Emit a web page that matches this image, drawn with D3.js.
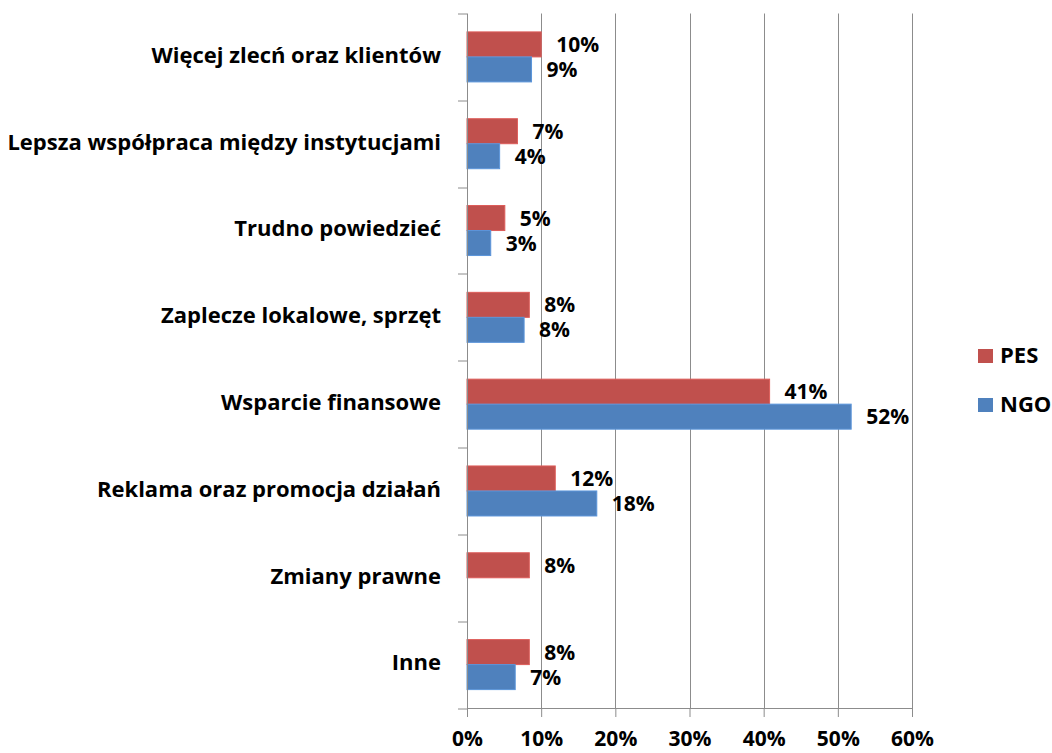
<!DOCTYPE html>
<html>
<head>
<meta charset="utf-8">
<script src="https://cdn.jsdelivr.net/npm/d3@7"></script>
<style>
  body { margin: 0; background: #fff; }
  svg text { font-family: "Open Sans", sans-serif; font-weight: bold; fill: #000; }
</style>
</head>
<body>
<div id="chart"></div>
<script>
// Horizontal grouped bars: PES vs NGO answers

var categories = [
    "Więcej zlecń oraz klientów",
    "Lepsza współpraca między instytucjami",
    "Trudno powiedzieć",
    "Zaplecze lokalowe, sprzęt",
    "Wsparcie finansowe",
    "Reklama oraz promocja działań",
    "Zmiany prawne",
    "Inne"
];
var pesValues = [10, 6.8, 5.1, 8.4, 40.8, 11.9, 8.4, 8.4];
var ngoValues = [8.7, 4.4, 3.2, 7.7, 51.8, 17.5, 0, 6.5];
var seriesNames = ["PES", "NGO"];
var xTicks = [0, 10, 20, 30, 40, 50, 60];

var colors = { PES: "#c0504d", NGO: "#4f81bd" };

var width = 1052, height = 753;
var margin = { top: 13.5, left: 467, right: 140, bottom: 45 };
var plotW = 912 - margin.left;
var plotH = 708 - margin.top;

var svg = d3.select("#chart").append("svg")
    .attr("width", width)
    .attr("height", height);

var g = svg.append("g")
    .attr("transform", "translate(" + margin.left + "," + margin.top + ")");

var x = d3.scaleLinear().domain([0, 60]).range([0, plotW]);
var y = d3.scaleBand().domain(categories).range([0, plotH]).paddingInner(0.424).paddingOuter(0.212);
var ySub = d3.scaleBand().domain(seriesNames).range([0, y.bandwidth()]);

var rows = categories.map(function(c, i) {
    return { cat: c, PES: pesValues[i], NGO: ngoValues[i] };
});

// gridlines
g.selectAll(".grid")
    .data(xTicks.slice(1))
    .enter().append("line")
    .attr("class", "grid")
    .attr("x1", function(d) { return Math.round(x(d)) + 0.5; })
    .attr("x2", function(d) { return Math.round(x(d)) + 0.5; })
    .attr("y1", 0)
    .attr("y2", plotH)
    .attr("stroke", "#8c8c8c");

// bars
var groups = g.selectAll(".cat")
    .data(rows)
    .enter().append("g")
    .attr("class", "cat")
    .attr("transform", function(d) { return "translate(0," + y(d.cat) + ")"; });

groups.selectAll("rect")
    .data(function(d) { return seriesNames.map(function(s) { return { s: s, v: d[s] }; }); })
    .enter().filter(function(d) { return d.v > 0; }).append("rect")
    .attr("x", 0)
    .attr("y", function(d) { return ySub(d.s); })
    .attr("width", function(d) { return x(d.v); })
    .attr("height", ySub.bandwidth())
    .attr("fill", function(d) { return colors[d.s]; })
    .attr("stroke", function(d) { return d3.color(colors[d.s]).brighter(0.4); })
    .attr("stroke-width", 1);

groups.selectAll(".lbl")
    .data(function(d) { return seriesNames.map(function(s) { return { s: s, v: d[s] }; }); })
    .enter().filter(function(d) { return d.v > 0; }).append("text")
    .attr("class", "lbl")
    .attr("x", function(d) { return x(d.v) + 15; })
    .attr("y", function(d) { return ySub(d.s) + ySub.bandwidth() / 2 + 2; })
    .attr("dominant-baseline", "middle")
    .style("font-size", "21px")
    .text(function(d) { return Math.round(d.v) + "%"; });

// y axis
var yAxis = g.append("g");
yAxis.append("line")
    .attr("x1", 0.5).attr("x2", 0.5)
    .attr("y1", 0).attr("y2", plotH)
    .attr("stroke", "#8c8c8c");
yAxis.selectAll(".ytick")
    .data(d3.range(categories.length + 1))
    .enter().append("line")
    .attr("x1", -9).attr("x2", 0)
    .attr("y1", function(i) { return Math.round(i * y.step()) + 0.5; })
    .attr("y2", function(i) { return Math.round(i * y.step()) + 0.5; })
    .attr("stroke", "#8c8c8c");
yAxis.selectAll(".ylabel")
    .data(categories)
    .enter().append("text")
    .attr("x", -26)
    .attr("y", function(d) { return y(d) + y.bandwidth() / 2; })
    .attr("text-anchor", "end")
    .attr("dominant-baseline", "middle")
    .style("font-size", "22px")
    .text(function(d) { return d; });

// x axis
var xAxis = d3.axisBottom(x)
    .tickValues(xTicks)
    .tickSize(9)
    .tickFormat(function(d) { return d + "%"; });
var xg = g.append("g")
    .attr("transform", "translate(0," + plotH + ")")
    .call(xAxis);
xg.select(".domain").attr("stroke", "#8c8c8c");
xg.selectAll(".tick line").attr("stroke", "#8c8c8c");
xg.selectAll(".tick text")
    .attr("y", 23)
    .style("font-size", "21px")
    .style("font-family", "'Open Sans', sans-serif");

// legend
var legend = svg.append("g").attr("transform", "translate(978,349)");
var li = legend.selectAll(".leg")
    .data(seriesNames)
    .enter().append("g")
    .attr("transform", function(d, i) { return "translate(0," + i * 49 + ")"; });
li.append("rect")
    .attr("width", 15).attr("height", 14)
    .attr("fill", function(d) { return colors[d]; });
li.append("text")
    .attr("x", 22).attr("y", 8)
    .attr("dominant-baseline", "middle")
    .style("font-size", "22px")
    .text(function(d) { return d; });
</script>
</body>
</html>
